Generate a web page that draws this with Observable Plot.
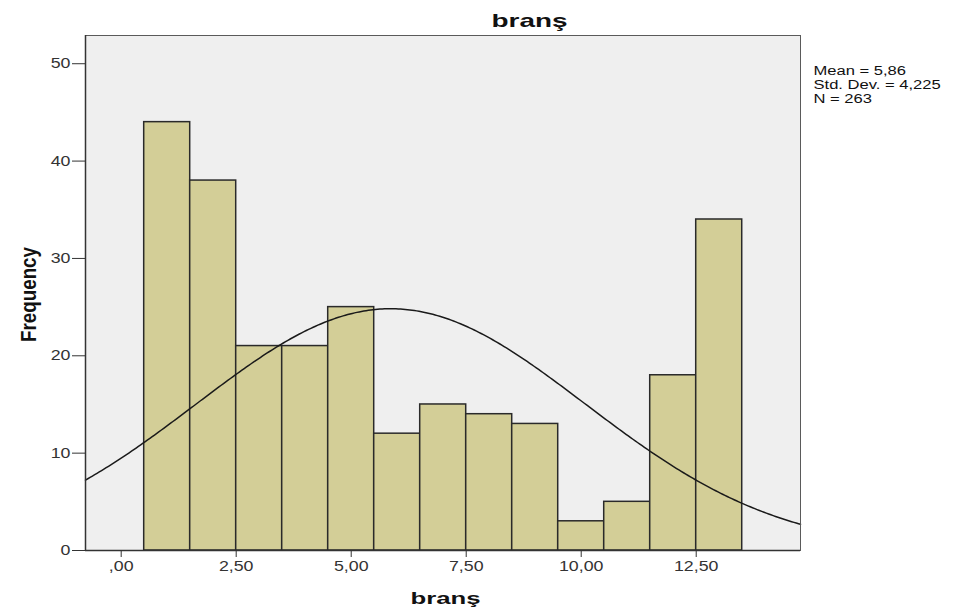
<!DOCTYPE html>
<html><head><meta charset="utf-8">
<script src="https://cdn.jsdelivr.net/npm/d3@7"></script>
<script src="https://cdn.jsdelivr.net/npm/@observablehq/plot@0.6"></script>
<style>html,body{margin:0;padding:0;background:#fff} svg{display:block}</style>
</head><body><div id="chart"></div>
<script>
// ---- data ----
const binCenters = [1, 2, 3, 4, 5, 6, 7, 8, 9, 10, 11, 12, 13];
const counts = [44, 38, 21, 21, 25, 12, 15, 14, 13, 3, 5, 18, 34];
const binWidth = 1;
const xTicks = [0, 2.5, 5, 7.5, 10, 12.5];
const yTicks = [0, 10, 20, 30, 40, 50];
const statsLines = ["Mean = 5,86", "Std. Dev. = 4,225", "N = 263"];
const mean = 5.86, sd = 4.225, n = 263;
const titleText = "branş", xLabel = "branş", yLabel = "Frequency";

// ---- derived tables ----
const bars = binCenters.map((c, i) => ({x1: c - binWidth / 2, x2: c + binWidth / 2, count: counts[i]}));
const xDomain = [-0.776, 14.767];
const yDomain = [0, 52.9];
const normal = x => n * binWidth * Math.exp(-0.5 * ((x - mean) / sd) ** 2) / (sd * Math.sqrt(2 * Math.PI));
const curveX = d3.range(xDomain[0], xDomain[1], 0.05).concat([xDomain[1]]);
const curve = curveX.map(x => ({x, y: normal(x)}));
const fmt = d => d3.format(".2f")(d).replace(".", ",").replace(/^0,/, ",");

const font = "'Liberation Sans', Arial, sans-serif";
const chart = Plot.plot({
  width: 958, height: 608,
  marginLeft: 85, marginRight: 158, marginTop: 35, marginBottom: 58,
  style: {fontFamily: font, background: "#fff", color: "#333", overflow: "visible"},
  x: {domain: xDomain},
  y: {domain: yDomain},
  marks: [
    Plot.frame({fill: "#efefef", stroke: null}),
    Plot.rectY(bars, {x1: "x1", x2: "x2", y: "count", fill: "#d3ce97", stroke: "#2a2a2a", strokeWidth: 1.5}),
    Plot.line(curve, {x: "x", y: "y", stroke: "#1a1a1a", strokeWidth: 1.5}),
    Plot.frame({stroke: "#5a5a5a", strokeWidth: 1}),
    Plot.ruleX([xDomain[0]], {stroke: "#333", strokeWidth: 1.5}),
    Plot.ruleY([yDomain[0]], {stroke: "#333", strokeWidth: 1.5}),
    Plot.axisX({ticks: xTicks, tickFormat: fmt, tickSize: 7, tickPadding: 4, fontSize: 14, label: null}),
    Plot.axisY({ticks: yTicks, tickSize: 13, tickPadding: 2, fontSize: 14, label: null}),
    Plot.text([titleText], {frameAnchor: "top", textAnchor: "middle", dx: 86.5, dy: -8.3, lineAnchor: "bottom", fontSize: 19, fontWeight: "bold", fill: "#111", className: "t-title"}),
    Plot.text([xLabel], {frameAnchor: "bottom", textAnchor: "middle", dx: 2.5, dy: 53, lineAnchor: "bottom", fontSize: 16, fontWeight: "bold", fill: "#111", className: "t-xlabel"}),
    Plot.text([yLabel], {frameAnchor: "left", textAnchor: "middle", dx: -50, dy: 1.5, rotate: -90, lineAnchor: "bottom", fontSize: 22, fontWeight: "bold", fill: "#111", className: "t-ylabel"}),
    ...statsLines.map((s, i) => Plot.text([s], {frameAnchor: "top-right", textAnchor: "start", dx: 13, dy: 39.5 + i * 14, lineAnchor: "bottom", fontSize: 12, fill: "#111", className: "t-stats"}))
  ]
});
document.getElementById("chart").append(chart);

// emulate the horizontally stretched lettering of the reference
function stretch(sel, k, fixed) {
  chart.querySelectorAll(sel).forEach(t => {
    const spans = t.querySelectorAll("tspan");
    const targets = spans.length ? Array.from(spans) : [t];
    targets.forEach(el => {
      const L = el.getComputedTextLength();
      el.setAttribute("textLength", fixed != null ? fixed : L * k);
      el.setAttribute("lengthAdjust", "spacingAndGlyphs");
    });
  });
}
stretch('g[aria-label="x-axis tick label"] text', 1.27);
stretch('g[aria-label="y-axis tick label"] text', 1.27);
stretch('g.t-title text', 1, 76);
stretch('g.t-xlabel text', 1, 70);
stretch('g.t-ylabel text', 1, 95);
stretch('g.t-stats text', 1.38);
</script>
</body></html>
